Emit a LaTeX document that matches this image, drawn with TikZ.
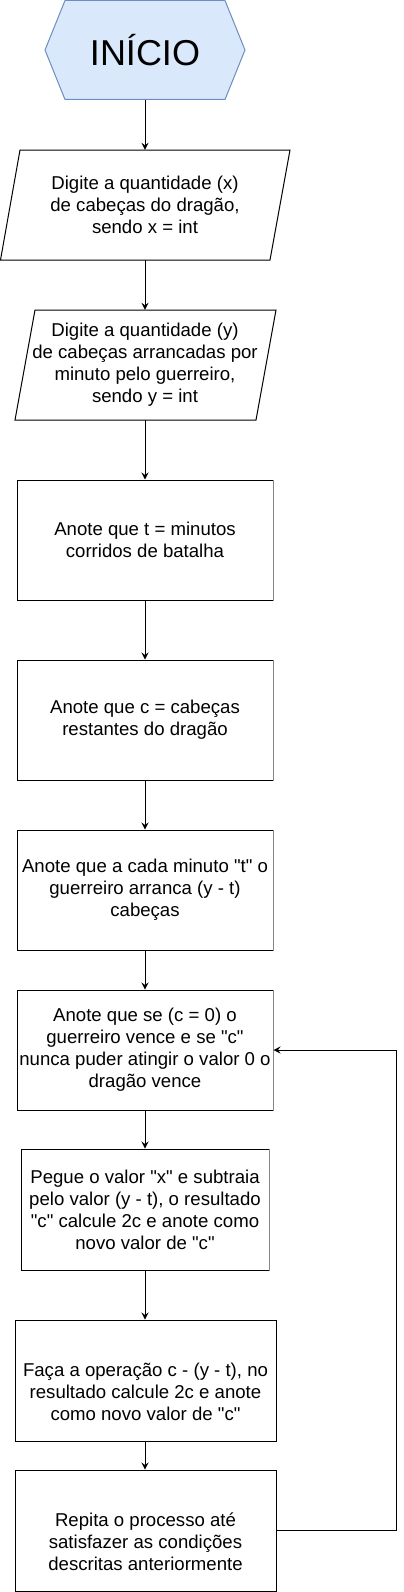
\documentclass[tikz,border=0pt]{standalone}
\usepackage{fontspec}
\setmainfont{Liberation Sans}
\usetikzlibrary{arrows.meta}
\definecolor{hexfill}{HTML}{DAE8FC}
\definecolor{hexdraw}{HTML}{6C8EBF}
\definecolor{edgegray}{HTML}{858585}
\newcommand{\qmk}{\textquotedbl}
\begin{document}
\begin{tikzpicture}[x=1pt,y=-1pt,
  txt/.style={font=\fontsize{18.6pt}{22pt}\selectfont, align=center, inner sep=0pt},
  boxnode/.style={txt, draw=black, line width=1pt, minimum height=120pt},
  ghost/.style={txt, draw=none},
  arr/.style={draw=black, line width=1pt, -{Stealth[length=7pt,width=7pt,inset=2.5pt]}}]
\useasboundingbox (0,0) rectangle (404,1592);
\fill[white] (0,0) rectangle (404,1592);

% hexagon start
\filldraw[fill=hexfill, draw=hexdraw, line width=1pt]
  (45,50) -- (65,0.5) -- (225,0.5) -- (245,50) -- (225,99.5) -- (65,99.5) -- cycle;
\node[ghost, font=\fontsize{36pt}{40pt}\selectfont, minimum width=200pt, minimum height=99pt] (inicio) at (145,50) {INÍCIO};

% parallelogram 1
\draw[line width=1pt] (20,150) -- (290,150) -- (270,260) -- (0.5,260) -- cycle;
\node[ghost, minimum width=270pt, minimum height=110pt] (p1) at (145,205) {Digite a quantidade (x)\\de cabeças do dragão,\\sendo x = int};

% parallelogram 2
\draw[line width=1pt] (35,310) -- (276,310) -- (256,420) -- (15,420) -- cycle;
\node[ghost, minimum width=241pt, minimum height=110pt] (p2) at (145,365) {Digite a quantidade (y)\\de cabeças arrancadas por\\minuto pelo guerreiro,\\sendo y = int};

% process boxes
\node[boxnode, minimum width=256pt] (b3) at (145,540) {Anote que t = minutos\\corridos de batalha};
\node[boxnode, minimum width=256pt] (b4) at (145,720) {Anote que c = cabeças\\restantes do dragão};
\node[boxnode, minimum width=256pt] (b5) at (145,890) {Anote que a cada minuto \qmk t\qmk{} o\\guerreiro arranca (y - t)\\cabeças};
\node[boxnode, minimum width=256pt] (b6) at (145,1050) {Anote que se (c = 0) o\\guerreiro vence e se \qmk c\qmk\\nunca puder atingir o valor 0 o\\dragão vence};
\node[boxnode, minimum width=248pt, minimum height=121pt] (b7) at (145,1209.5) {Pegue o valor \qmk x\qmk{} e subtraia\\pelo valor (y - t), o resultado\\\qmk c\qmk{} calcule 2c e anote como\\novo valor de \qmk c\qmk};
\node[boxnode, minimum width=261pt, minimum height=121pt] (b8) at (145.5,1380.5) {};
\node[txt] (t8) at ([yshift=-11pt]b8.center) {Faça a operação c - (y - t), no\\resultado calcule 2c e anote\\como novo valor de \qmk c\qmk};
\node[boxnode, minimum width=261pt, minimum height=121pt] (b9) at (145.5,1530.5) {};
\node[txt] (t9) at ([yshift=-11pt]b9.center) {Repita o processo até\\satisfazer as condições\\descritas anteriormente};

% gray right edges
\foreach \b in {b3,b4,b5,b6,b7}
  \draw[edgegray, line width=1.2pt] (\b.north east) -- (\b.south east);

% connectors
\draw[arr] (inicio.south) -- (inicio.south |- p1.north);
\draw[arr] (p1.south) -- (p1.south |- p2.north);
\draw[arr] (p2.south) -- (p2.south |- b3.north);
\draw[arr] (b3.south) -- (b3.south |- b4.north);
\draw[arr] (b4.south) -- (b4.south |- b5.north);
\draw[arr] (b5.south) -- (b5.south |- b6.north);
\draw[arr] (b6.south) -- (b6.south |- b7.north);
\draw[arr] (b7.south) -- (b7.south |- b8.north);
\draw[arr] (b8.south -| b7.south) -- (b7.south |- b9.north);
\coordinate (loopbot) at (396,1530.5);
\coordinate (looptop) at (396,1050);
\draw[arr] (b9.east) -- (loopbot) -- (looptop) -- (b6.east);
\end{tikzpicture}
\end{document}
